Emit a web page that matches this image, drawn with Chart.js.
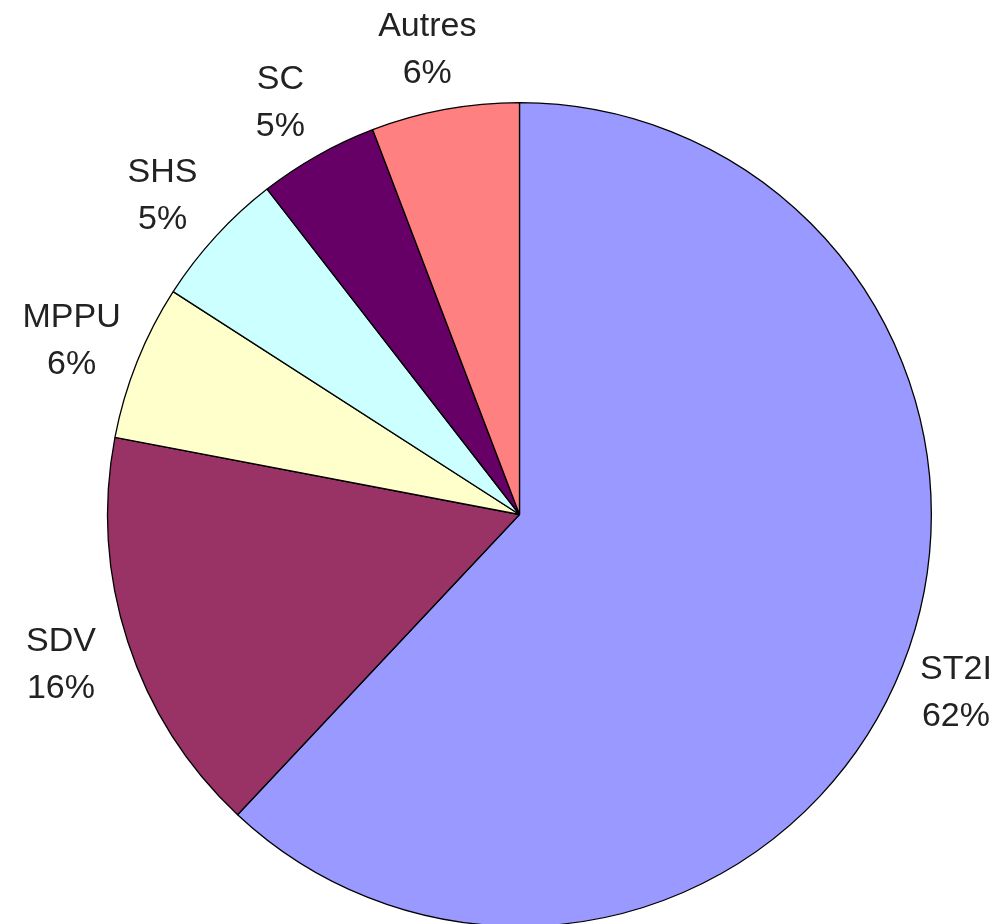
<!DOCTYPE html>
<html>
<head>
<meta charset="utf-8">
<script src="https://cdn.jsdelivr.net/npm/chart.js@4.4.1/dist/chart.umd.min.js"></script>
<style>
  html, body { margin: 0; padding: 0; background: #fff; overflow: hidden; }
  #wrap { width: 996px; height: 930px; position: relative; }
</style>
</head>
<body>
<div id="wrap"><canvas id="pieChart"></canvas></div>
<script>
const categories = ['ST2I', 'SDV', 'MPPU', 'SHS', 'SC', 'Autres'];
const shares = [62.0, 16.0, 6.1, 5.4, 4.7, 5.8];
const sliceColors = ['#9999FF', '#993366', '#FFFFCC', '#CCFFFF', '#660066', '#FF8080'];

// étiquettes "nom + %" placées autour du camembert
const outsideLabels = {
  id: 'outsideLabels',
  afterDatasetsDraw(chart) {
    const ctx = chart.ctx;
    const meta = chart.getDatasetMeta(0);
    const total = shares.reduce((a, b) => a + b, 0);
    ctx.save();
    ctx.font = '34px "Liberation Sans", Arial, sans-serif';
    ctx.fillStyle = '#222';
    ctx.textAlign = 'center';
    ctx.textBaseline = 'alphabetic';
    meta.data.forEach((arc, i) => {
      const p = arc.getProps(['x', 'y', 'startAngle', 'endAngle', 'outerRadius'], true);
      const mid = (p.startAngle + p.endAngle) / 2;
      const r = p.outerRadius + 64;
      const cx = p.x + Math.cos(mid) * r - 6;
      const cy = p.y + Math.sin(mid) * r;
      const pct = Math.round(shares[i] / total * 100) + '%';
      ctx.fillText(categories[i], cx, cy - 11);
      ctx.fillText(pct, cx, cy + 36);
    });
    ctx.restore();
  }
};

new Chart(document.getElementById('pieChart'), {
  type: 'pie',
  data: {
    labels: categories,
    datasets: [{
      data: shares,
      backgroundColor: sliceColors,
      borderColor: '#000',
      borderWidth: 1.3
    }]
  },
  options: {
    responsive: true,
    maintainAspectRatio: false,
    animation: false,
    layout: { padding: { top: 102, bottom: 3, left: 107, right: 64 } },
    plugins: {
      legend: { display: false },
      tooltip: { enabled: false }
    }
  },
  plugins: [outsideLabels]
});
</script>
</body>
</html>
